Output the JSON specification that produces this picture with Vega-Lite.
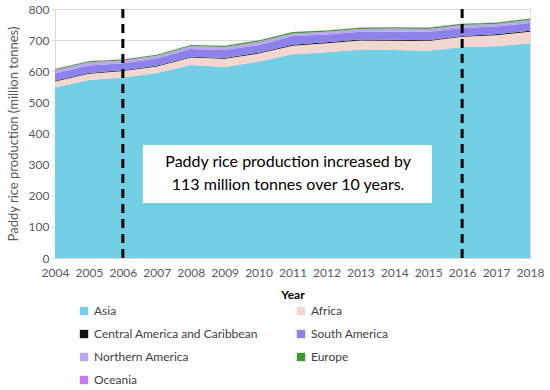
{
  "$schema": "https://vega.github.io/schema/vega-lite/v6.json",
  "width": 475,
  "height": 249,
  "autosize": {"type": "none"},
  "padding": {"left": 55, "top": 9, "right": 20, "bottom": 132},
  "background": "white",
  "config": {
    "font": "Lato",
    "view": {"stroke": "#d9d9d9", "strokeWidth": 1},
    "axis": {"labelColor": "#595959", "labelFontSize": 12, "titleColor": "#595959", "domainColor": "#d9d9d9", "tickColor": "#d9d9d9", "gridColor": "#d9d9d9", "labelOverlap": false}
  },
  "datasets": {
    "rice": [
      {"Year": 2004, "Asia": 548, "Africa": 19, "Central America and Caribbean": 2.6, "South America": 24, "Northern America": 10.5, "Europe": 3.3, "Oceania": 0.6},
      {"Year": 2005, "Asia": 572, "Africa": 20, "Central America and Caribbean": 2.7, "South America": 24, "Northern America": 10.1, "Europe": 3.5, "Oceania": 0.4},
      {"Year": 2006, "Asia": 580, "Africa": 21, "Central America and Caribbean": 2.6, "South America": 22, "Northern America": 8.8, "Europe": 3.3, "Oceania": 1.0},
      {"Year": 2007, "Asia": 594, "Africa": 21, "Central America and Caribbean": 2.6, "South America": 23, "Northern America": 9.0, "Europe": 3.3, "Oceania": 0.2},
      {"Year": 2008, "Asia": 620, "Africa": 24, "Central America and Caribbean": 2.8, "South America": 25, "Northern America": 9.2, "Europe": 3.1, "Oceania": 0.1},
      {"Year": 2009, "Asia": 614, "Africa": 26, "Central America and Caribbean": 2.9, "South America": 25, "Northern America": 10.0, "Europe": 3.8, "Oceania": 0.1},
      {"Year": 2010, "Asia": 631, "Africa": 26, "Central America and Caribbean": 2.8, "South America": 24, "Northern America": 11.0, "Europe": 4.3, "Oceania": 0.2},
      {"Year": 2011, "Asia": 655, "Africa": 27, "Central America and Caribbean": 2.9, "South America": 28, "Northern America": 8.4, "Europe": 4.5, "Oceania": 0.7},
      {"Year": 2012, "Asia": 661, "Africa": 29, "Central America and Caribbean": 2.8, "South America": 25, "Northern America": 9.0, "Europe": 4.3, "Oceania": 0.9},
      {"Year": 2013, "Asia": 670, "Africa": 29, "Central America and Caribbean": 2.9, "South America": 25, "Northern America": 8.6, "Europe": 4.0, "Oceania": 1.2},
      {"Year": 2014, "Asia": 668, "Africa": 30, "Central America and Caribbean": 2.9, "South America": 26, "Northern America": 10.1, "Europe": 4.0, "Oceania": 0.8},
      {"Year": 2015, "Asia": 666, "Africa": 31, "Central America and Caribbean": 2.8, "South America": 27, "Northern America": 8.8, "Europe": 4.0, "Oceania": 0.7},
      {"Year": 2016, "Asia": 678, "Africa": 33, "Central America and Caribbean": 2.6, "South America": 25, "Northern America": 10.2, "Europe": 4.1, "Oceania": 0.3},
      {"Year": 2017, "Asia": 680, "Africa": 36, "Central America and Caribbean": 2.8, "South America": 25, "Northern America": 8.1, "Europe": 4.1, "Oceania": 0.8},
      {"Year": 2018, "Asia": 690, "Africa": 37, "Central America and Caribbean": 2.9, "South America": 25, "Northern America": 10.2, "Europe": 4.0, "Oceania": 0.6}
    ],
    "marks": [{"Year": 2006}, {"Year": 2016}],
    "box": [{"x1": 2006.59, "x2": 2015.11, "y1": 177, "y2": 363}],
    "note": [
      {"x": 2010.87, "y": 309, "t": "Paddy rice production increased by"},
      {"x": 2010.87, "y": 235, "t": "113 million tonnes over 10 years."}
    ]
  },
  "layer": [
    {
      "data": {"name": "rice"},
      "transform": [
        {"fold": ["Asia", "Africa", "Central America and Caribbean", "South America", "Northern America", "Europe", "Oceania"], "as": ["Region", "Production"]},
        {"calculate": "indexof(['Asia','Africa','Central America and Caribbean','South America','Northern America','Europe','Oceania'], datum.Region)", "as": "ord"}
      ],
      "mark": {"type": "area", "opacity": 1},
      "encoding": {
        "x": {"field": "Year", "type": "quantitative", "scale": {"domain": [2004, 2018], "nice": false},
          "axis": {"values": [2004,2005,2006,2007,2008,2009,2010,2011,2012,2013,2014,2015,2016,2017,2018], "format": "d", "labelOverlap": false, "labelFlush": false, "title": "Year", "titleFontWeight": "bold", "titleColor": "#000000", "titleFontSize": 12, "labelPadding": 9, "ticks": false, "grid": false, "titlePadding": 11}},
        "y": {"field": "Production", "type": "quantitative", "stack": "zero", "scale": {"domain": [0, 800], "nice": false},
          "axis": {"values": [0,100,200,300,400,500,600,700,800], "labelOverlap": false, "labelFlush": false, "title": "Paddy rice production (million tonnes)", "titleFontWeight": "normal", "titleFontSize": 13, "grid": true, "tickSize": 4, "titlePadding": 8}},
        "color": {"field": "Region", "type": "nominal",
          "scale": {"domain": ["Asia", "Africa", "Central America and Caribbean", "South America", "Northern America", "Europe", "Oceania"],
                    "range": ["#72cfe4", "#f2d6d0", "#111111", "#8c82ea", "#b9a6ec", "#3d9a33", "#c77ae6"]},
          "legend": {"title": null, "orient": "none", "direction": "horizontal", "legendX": 23, "legendY": 296, "columns": 2, "columnPadding": 37, "rowPadding": 11, "labelFontSize": 12, "labelColor": "#404040", "symbolType": "square", "symbolSize": 70, "labelOffset": 4, "labelLimit": 300}},
        "order": {"field": "ord", "type": "quantitative"}
      }
    },
    {
      "data": {"name": "box"},
      "mark": {"type": "rect", "fill": "white", "stroke": null},
      "encoding": {
        "x": {"field": "x1", "type": "quantitative",
          "axis": {"values": [2004,2005,2006,2007,2008,2009,2010,2011,2012,2013,2014,2015,2016,2017,2018], "format": "d", "labelOverlap": false, "labelFlush": false, "title": "Year", "titleFontWeight": "bold", "titleColor": "#000000", "titleFontSize": 12, "labelPadding": 9, "ticks": false, "grid": false, "titlePadding": 11}},
        "x2": {"field": "x2"},
        "y": {"field": "y1", "type": "quantitative",
          "axis": {"values": [0,100,200,300,400,500,600,700,800], "labelOverlap": false, "labelFlush": false, "title": "Paddy rice production (million tonnes)", "titleFontWeight": "normal", "titleFontSize": 13, "grid": true, "tickSize": 4, "titlePadding": 8}},
        "y2": {"field": "y2"}
      }
    },
    {
      "data": {"name": "note"},
      "mark": {"type": "text", "fontSize": 16, "color": "#000000", "align": "center", "baseline": "middle"},
      "encoding": {
        "x": {"field": "x", "type": "quantitative",
          "axis": {"values": [2004,2005,2006,2007,2008,2009,2010,2011,2012,2013,2014,2015,2016,2017,2018], "format": "d", "labelOverlap": false, "labelFlush": false, "title": "Year", "titleFontWeight": "bold", "titleColor": "#000000", "titleFontSize": 12, "labelPadding": 9, "ticks": false, "grid": false, "titlePadding": 11}},
        "y": {"field": "y", "type": "quantitative",
          "axis": {"values": [0,100,200,300,400,500,600,700,800], "labelOverlap": false, "labelFlush": false, "title": "Paddy rice production (million tonnes)", "titleFontWeight": "normal", "titleFontSize": 13, "grid": true, "tickSize": 4, "titlePadding": 8}},
        "text": {"field": "t"}
      }
    },
    {
      "data": {"name": "marks"},
      "mark": {"type": "rule", "color": "#000000", "strokeWidth": 3, "strokeDash": [9, 6]},
      "encoding": {
        "x": {"field": "Year", "type": "quantitative",
          "axis": {"values": [2004,2005,2006,2007,2008,2009,2010,2011,2012,2013,2014,2015,2016,2017,2018], "format": "d", "labelOverlap": false, "labelFlush": false, "title": "Year", "titleFontWeight": "bold", "titleColor": "#000000", "titleFontSize": 12, "labelPadding": 9, "ticks": false, "grid": false, "titlePadding": 11}}
      }
    }
  ]
}
